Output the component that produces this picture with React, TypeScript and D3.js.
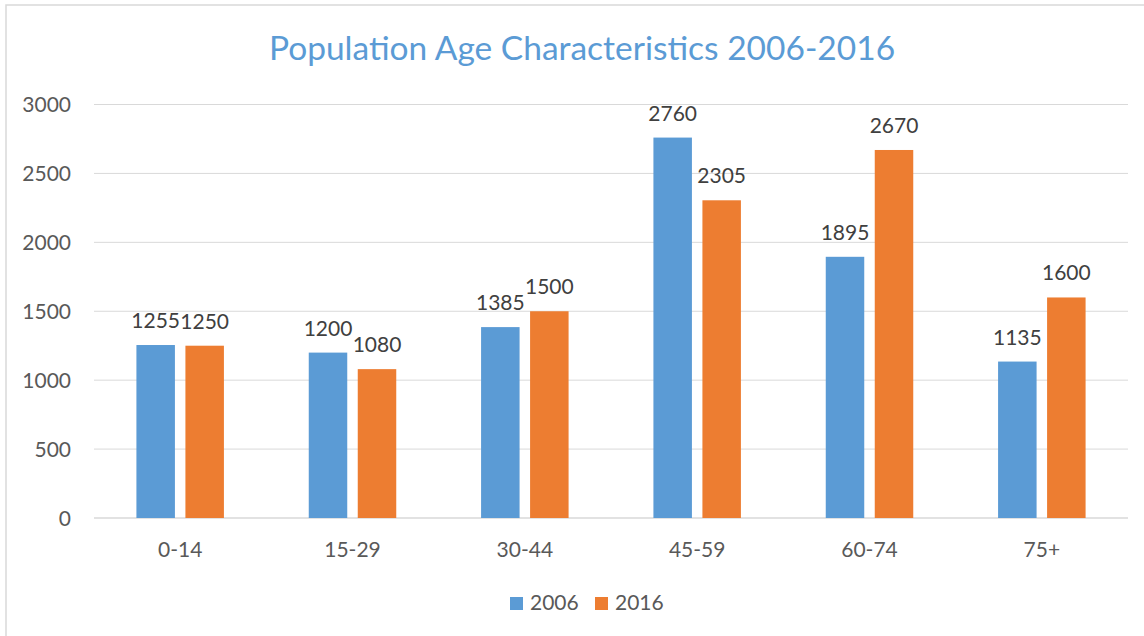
import React from "react";
import * as d3 from "d3";

const categories = ["0-14", "15-29", "30-44", "45-59", "60-74", "75+"];
const series2006 = [1255, 1200, 1385, 2760, 1895, 1135];
const series2016 = [1250, 1080, 1500, 2305, 2670, 1600];
const seriesNames = ["2006", "2016"];
const yTicks = [0, 500, 1000, 1500, 2000, 2500, 3000];
const colors = ["#5B9BD5", "#ED7D31"];

const W = 1144;
const H = 636;
const left = 94;
const right = 1128;
const top = 104.5;
const bottom = 518;
const FONT = "Lato, 'Open Sans', sans-serif";

export default function App() {
  const x = d3.scaleBand<string>().domain(categories).range([left, right]).paddingInner(0).paddingOuter(0);
  const y = d3.scaleLinear().domain([0, 3000]).range([bottom, top]);
  const barW = 38.5;
  const gap = 10.5;
  const seriesData = [series2006, series2016];

  return (
    <svg width={W} height={H} style={{ position: "absolute", left: 0, top: 0 }} fontFamily={FONT}>
      <rect x={0} y={0} width={W} height={H} fill="#fff" />
      <rect x={6} y={5} width={W + 10} height={H + 10} fill="#fff" stroke="#D9D9D9" strokeWidth={1.5} />
      <text x={582} y={60} textAnchor="middle" fontSize={33.5} fill="#5B9BD5">
        Population Age Characteristics 2006-2016
      </text>
      {yTicks.map((t) => (
        <g key={t}>
          <line x1={left} x2={right} y1={y(t)} y2={y(t)} stroke="#D9D9D9" strokeWidth={t === 0 ? 1.5 : 1} />
          <text x={71} y={y(t)} dy="0.36em" textAnchor="end" fontSize={21} fill="#595959">
            {t}
          </text>
        </g>
      ))}
      {seriesData.map((vals, si) =>
        vals.map((v, i) => {
          const cx = (x(categories[i]) as number) + x.bandwidth() / 2;
          const bx = si === 0 ? cx - gap / 2 - barW : cx + gap / 2;
          return (
            <g key={`${si}-${i}`}>
              <rect x={bx} y={y(v)} width={barW} height={bottom - y(v)} fill={colors[si]} />
              <text x={bx + barW / 2} y={y(v) - 17} textAnchor="middle" fontSize={21} fill="#404040">
                {v}
              </text>
            </g>
          );
        })
      )}
      {categories.map((c) => (
        <text key={c} x={(x(c) as number) + x.bandwidth() / 2} y={557} textAnchor="middle" fontSize={21} fill="#595959">
          {c}
        </text>
      ))}
      {seriesNames.map((n, i) => (
        <g key={n}>
          <rect x={510 + i * 85} y={597} width={13} height={13} fill={colors[i]} />
          <text x={530 + i * 85} y={610} fontSize={21} fill="#595959">
            {n}
          </text>
        </g>
      ))}
    </svg>
  );
}
